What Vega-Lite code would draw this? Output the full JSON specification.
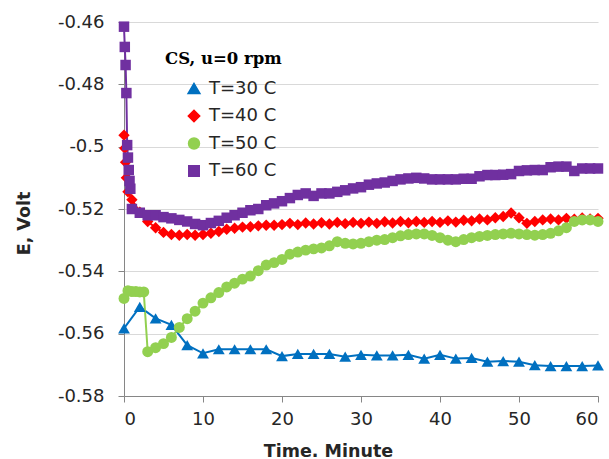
{
  "$schema": "https://vega.github.io/schema/vega-lite/v6.json",
  "width": 474,
  "height": 374,
  "autosize": {"type": "none"},
  "padding": {"left": 124, "top": 22, "right": 11, "bottom": 63},
  "background": "white",
  "config": {"view": {"stroke": null}, "font": "DejaVu Sans"},
  "data": {"values": [
    {"s":"T=30 C","t":0,"e":-0.5583},{"s":"T=30 C","t":2,"e":-0.5514},{"s":"T=30 C","t":4,"e":-0.5551},{"s":"T=30 C","t":6,"e":-0.5572},{"s":"T=30 C","t":8,"e":-0.5637},{"s":"T=30 C","t":10,"e":-0.5663},{"s":"T=30 C","t":12,"e":-0.565},{"s":"T=30 C","t":14,"e":-0.565},{"s":"T=30 C","t":16,"e":-0.565},{"s":"T=30 C","t":18,"e":-0.565},{"s":"T=30 C","t":20,"e":-0.5672},{"s":"T=30 C","t":22,"e":-0.5665},{"s":"T=30 C","t":24,"e":-0.5665},{"s":"T=30 C","t":26,"e":-0.5665},{"s":"T=30 C","t":28,"e":-0.5674},{"s":"T=30 C","t":30,"e":-0.5668},{"s":"T=30 C","t":32,"e":-0.567},{"s":"T=30 C","t":34,"e":-0.567},{"s":"T=30 C","t":36,"e":-0.5668},{"s":"T=30 C","t":38,"e":-0.568},{"s":"T=30 C","t":40,"e":-0.5668},{"s":"T=30 C","t":42,"e":-0.568},{"s":"T=30 C","t":44,"e":-0.5678},{"s":"T=30 C","t":46,"e":-0.569},{"s":"T=30 C","t":48,"e":-0.5688},{"s":"T=30 C","t":50,"e":-0.569},{"s":"T=30 C","t":52,"e":-0.5701},{"s":"T=30 C","t":54,"e":-0.5704},{"s":"T=30 C","t":56,"e":-0.5704},{"s":"T=30 C","t":58,"e":-0.5704},{"s":"T=30 C","t":60,"e":-0.5702},
    {"s":"T=40 C","t":0,"e":-0.4963},{"s":"T=40 C","t":0.1,"e":-0.5005},{"s":"T=40 C","t":0.2,"e":-0.505},{"s":"T=40 C","t":0.3,"e":-0.51},{"s":"T=40 C","t":0.5,"e":-0.5145},{"s":"T=40 C","t":1,"e":-0.517},{"s":"T=40 C","t":2,"e":-0.521},{"s":"T=40 C","t":3,"e":-0.524},{"s":"T=40 C","t":4,"e":-0.526},{"s":"T=40 C","t":5,"e":-0.5275},{"s":"T=40 C","t":6,"e":-0.5282},{"s":"T=40 C","t":7,"e":-0.5284},{"s":"T=40 C","t":8,"e":-0.5282},{"s":"T=40 C","t":9,"e":-0.5284},{"s":"T=40 C","t":10,"e":-0.5282},{"s":"T=40 C","t":11,"e":-0.5278},{"s":"T=40 C","t":12,"e":-0.5272},{"s":"T=40 C","t":13,"e":-0.5265},{"s":"T=40 C","t":14,"e":-0.5262},{"s":"T=40 C","t":15,"e":-0.5258},{"s":"T=40 C","t":16,"e":-0.5257},{"s":"T=40 C","t":17,"e":-0.5254},{"s":"T=40 C","t":18,"e":-0.5252},{"s":"T=40 C","t":19,"e":-0.5252},{"s":"T=40 C","t":20,"e":-0.525},{"s":"T=40 C","t":21,"e":-0.5246},{"s":"T=40 C","t":22,"e":-0.525},{"s":"T=40 C","t":23,"e":-0.5245},{"s":"T=40 C","t":24,"e":-0.5248},{"s":"T=40 C","t":25,"e":-0.5244},{"s":"T=40 C","t":26,"e":-0.5248},{"s":"T=40 C","t":27,"e":-0.5243},{"s":"T=40 C","t":28,"e":-0.5247},{"s":"T=40 C","t":29,"e":-0.5243},{"s":"T=40 C","t":30,"e":-0.5246},{"s":"T=40 C","t":31,"e":-0.5242},{"s":"T=40 C","t":32,"e":-0.5246},{"s":"T=40 C","t":33,"e":-0.5241},{"s":"T=40 C","t":34,"e":-0.5245},{"s":"T=40 C","t":35,"e":-0.524},{"s":"T=40 C","t":36,"e":-0.5244},{"s":"T=40 C","t":37,"e":-0.524},{"s":"T=40 C","t":38,"e":-0.5243},{"s":"T=40 C","t":39,"e":-0.524},{"s":"T=40 C","t":40,"e":-0.5243},{"s":"T=40 C","t":41,"e":-0.5238},{"s":"T=40 C","t":42,"e":-0.5242},{"s":"T=40 C","t":43,"e":-0.5236},{"s":"T=40 C","t":44,"e":-0.5238},{"s":"T=40 C","t":45,"e":-0.5232},{"s":"T=40 C","t":46,"e":-0.5235},{"s":"T=40 C","t":47,"e":-0.5228},{"s":"T=40 C","t":48,"e":-0.5224},{"s":"T=40 C","t":49,"e":-0.5213},{"s":"T=40 C","t":50,"e":-0.5228},{"s":"T=40 C","t":51,"e":-0.5246},{"s":"T=40 C","t":52,"e":-0.524},{"s":"T=40 C","t":53,"e":-0.5235},{"s":"T=40 C","t":54,"e":-0.5232},{"s":"T=40 C","t":55,"e":-0.5235},{"s":"T=40 C","t":56,"e":-0.523},{"s":"T=40 C","t":57,"e":-0.5233},{"s":"T=40 C","t":58,"e":-0.5229},{"s":"T=40 C","t":59,"e":-0.5232},{"s":"T=40 C","t":60,"e":-0.523},
    {"s":"T=50 C","t":0,"e":-0.5487},{"s":"T=50 C","t":0.5,"e":-0.5462},{"s":"T=50 C","t":1,"e":-0.5465},{"s":"T=50 C","t":1.5,"e":-0.5465},{"s":"T=50 C","t":2,"e":-0.5466},{"s":"T=50 C","t":2.5,"e":-0.5466},{"s":"T=50 C","t":3,"e":-0.5658},{"s":"T=50 C","t":4,"e":-0.5645},{"s":"T=50 C","t":5,"e":-0.5632},{"s":"T=50 C","t":6,"e":-0.5612},{"s":"T=50 C","t":7,"e":-0.558},{"s":"T=50 C","t":8,"e":-0.5552},{"s":"T=50 C","t":9,"e":-0.5528},{"s":"T=50 C","t":10,"e":-0.5502},{"s":"T=50 C","t":11,"e":-0.5485},{"s":"T=50 C","t":12,"e":-0.5468},{"s":"T=50 C","t":13,"e":-0.545},{"s":"T=50 C","t":14,"e":-0.5438},{"s":"T=50 C","t":15,"e":-0.5425},{"s":"T=50 C","t":16,"e":-0.5415},{"s":"T=50 C","t":17,"e":-0.5398},{"s":"T=50 C","t":18,"e":-0.538},{"s":"T=50 C","t":19,"e":-0.5372},{"s":"T=50 C","t":20,"e":-0.5362},{"s":"T=50 C","t":21,"e":-0.5345},{"s":"T=50 C","t":22,"e":-0.5338},{"s":"T=50 C","t":23,"e":-0.5332},{"s":"T=50 C","t":24,"e":-0.5328},{"s":"T=50 C","t":25,"e":-0.5325},{"s":"T=50 C","t":26,"e":-0.5318},{"s":"T=50 C","t":27,"e":-0.5305},{"s":"T=50 C","t":28,"e":-0.531},{"s":"T=50 C","t":29,"e":-0.5312},{"s":"T=50 C","t":30,"e":-0.531},{"s":"T=50 C","t":31,"e":-0.5305},{"s":"T=50 C","t":32,"e":-0.53},{"s":"T=50 C","t":33,"e":-0.5298},{"s":"T=50 C","t":34,"e":-0.5292},{"s":"T=50 C","t":35,"e":-0.5286},{"s":"T=50 C","t":36,"e":-0.5282},{"s":"T=50 C","t":37,"e":-0.528},{"s":"T=50 C","t":38,"e":-0.528},{"s":"T=50 C","t":39,"e":-0.5285},{"s":"T=50 C","t":40,"e":-0.5292},{"s":"T=50 C","t":41,"e":-0.53},{"s":"T=50 C","t":42,"e":-0.5305},{"s":"T=50 C","t":43,"e":-0.5298},{"s":"T=50 C","t":44,"e":-0.5292},{"s":"T=50 C","t":45,"e":-0.5288},{"s":"T=50 C","t":46,"e":-0.5285},{"s":"T=50 C","t":47,"e":-0.5282},{"s":"T=50 C","t":48,"e":-0.528},{"s":"T=50 C","t":49,"e":-0.5278},{"s":"T=50 C","t":50,"e":-0.528},{"s":"T=50 C","t":51,"e":-0.5282},{"s":"T=50 C","t":52,"e":-0.5284},{"s":"T=50 C","t":53,"e":-0.5282},{"s":"T=50 C","t":54,"e":-0.5278},{"s":"T=50 C","t":55,"e":-0.527},{"s":"T=50 C","t":56,"e":-0.526},{"s":"T=50 C","t":57,"e":-0.524},{"s":"T=50 C","t":58,"e":-0.5235},{"s":"T=50 C","t":59,"e":-0.5235},{"s":"T=50 C","t":60,"e":-0.524},
    {"s":"T=60 C","t":0,"e":-0.4615},{"s":"T=60 C","t":0.1,"e":-0.468},{"s":"T=60 C","t":0.2,"e":-0.4738},{"s":"T=60 C","t":0.3,"e":-0.4828},{"s":"T=60 C","t":0.4,"e":-0.4995},{"s":"T=60 C","t":0.5,"e":-0.5035},{"s":"T=60 C","t":0.6,"e":-0.5075},{"s":"T=60 C","t":0.7,"e":-0.511},{"s":"T=60 C","t":0.8,"e":-0.5135},{"s":"T=60 C","t":1,"e":-0.52},{"s":"T=60 C","t":2,"e":-0.5212},{"s":"T=60 C","t":3,"e":-0.522},{"s":"T=60 C","t":4,"e":-0.522},{"s":"T=60 C","t":5,"e":-0.5226},{"s":"T=60 C","t":6,"e":-0.523},{"s":"T=60 C","t":7,"e":-0.5235},{"s":"T=60 C","t":8,"e":-0.524},{"s":"T=60 C","t":9,"e":-0.5248},{"s":"T=60 C","t":10,"e":-0.5252},{"s":"T=60 C","t":11,"e":-0.5245},{"s":"T=60 C","t":12,"e":-0.5238},{"s":"T=60 C","t":13,"e":-0.5228},{"s":"T=60 C","t":14,"e":-0.522},{"s":"T=60 C","t":15,"e":-0.5212},{"s":"T=60 C","t":16,"e":-0.5204},{"s":"T=60 C","t":17,"e":-0.52},{"s":"T=60 C","t":18,"e":-0.5188},{"s":"T=60 C","t":19,"e":-0.5182},{"s":"T=60 C","t":20,"e":-0.5175},{"s":"T=60 C","t":21,"e":-0.5165},{"s":"T=60 C","t":22,"e":-0.5155},{"s":"T=60 C","t":23,"e":-0.515},{"s":"T=60 C","t":24,"e":-0.5158},{"s":"T=60 C","t":25,"e":-0.515},{"s":"T=60 C","t":26,"e":-0.515},{"s":"T=60 C","t":27,"e":-0.5145},{"s":"T=60 C","t":28,"e":-0.514},{"s":"T=60 C","t":29,"e":-0.5134},{"s":"T=60 C","t":30,"e":-0.513},{"s":"T=60 C","t":31,"e":-0.5122},{"s":"T=60 C","t":32,"e":-0.5118},{"s":"T=60 C","t":33,"e":-0.5115},{"s":"T=60 C","t":34,"e":-0.511},{"s":"T=60 C","t":35,"e":-0.5105},{"s":"T=60 C","t":36,"e":-0.5102},{"s":"T=60 C","t":37,"e":-0.51},{"s":"T=60 C","t":38,"e":-0.5102},{"s":"T=60 C","t":39,"e":-0.5105},{"s":"T=60 C","t":40,"e":-0.5105},{"s":"T=60 C","t":41,"e":-0.5105},{"s":"T=60 C","t":42,"e":-0.5105},{"s":"T=60 C","t":43,"e":-0.5103},{"s":"T=60 C","t":44,"e":-0.5103},{"s":"T=60 C","t":45,"e":-0.5095},{"s":"T=60 C","t":46,"e":-0.5091},{"s":"T=60 C","t":47,"e":-0.5091},{"s":"T=60 C","t":48,"e":-0.509},{"s":"T=60 C","t":49,"e":-0.5088},{"s":"T=60 C","t":50,"e":-0.5078},{"s":"T=60 C","t":51,"e":-0.5076},{"s":"T=60 C","t":52,"e":-0.5075},{"s":"T=60 C","t":53,"e":-0.5075},{"s":"T=60 C","t":54,"e":-0.5066},{"s":"T=60 C","t":55,"e":-0.5064},{"s":"T=60 C","t":56,"e":-0.5064},{"s":"T=60 C","t":57,"e":-0.5078},{"s":"T=60 C","t":58,"e":-0.507},{"s":"T=60 C","t":59,"e":-0.507},{"s":"T=60 C","t":60,"e":-0.507}
  ]},
  "encoding": {
    "x": {
      "field": "t", "type": "quantitative",
      "scale": {"domain": [0, 60], "nice": false},
      "axis": {
        "values": [0, 10, 20, 30, 40, 50, 60],
        "grid": false,
        "title": "Time. Minute",
        "titleFont": "DejaVu Sans", "titleFontSize": 17.5, "titleFontWeight": "bold", "titleColor": "#262626",
        "titleX": 204, "titleY": 60, "titleAlign": "center", "titleBaseline": "alphabetic",
        "labelFont": "DejaVu Sans", "labelFontSize": 18, "labelColor": "#262626", "labelPadding": 8,
        "domainColor": "#868686", "domainWidth": 1, "tickColor": "#868686", "tickSize": 6, "tickWidth": 1
      }
    },
    "y": {
      "field": "e", "type": "quantitative",
      "scale": {"domain": [-0.58, -0.46], "nice": false, "zero": false},
      "axis": {
        "values": [-0.58, -0.56, -0.54, -0.52, -0.5, -0.48, -0.46],
        "labelExpr": "replace(format(datum.value, '.2~f'), '\u2212', '-')",
        "grid": true, "gridColor": "#d9d9d9", "gridWidth": 1,
        "title": "E, Volt",
        "titleFont": "DejaVu Sans", "titleFontSize": 17.5, "titleFontWeight": "bold", "titleColor": "#262626",
        "titleX": -100, "titleY": 201, "titleAngle": -90, "titleAlign": "center", "titleBaseline": "middle",
        "labelFont": "DejaVu Sans", "labelFontSize": 18, "labelColor": "#262626", "labelPadding": 14,
        "domainColor": "#868686", "domainWidth": 1, "tickColor": "#868686", "tickSize": 6, "tickWidth": 1
      }
    },
    "color": {
      "field": "s", "type": "nominal",
      "scale": {"domain": ["T=30 C", "T=40 C", "T=50 C", "T=60 C"], "range": ["#0070C0", "#FF0000", "#92D050", "#7030A0"]},
      "legend": {
        "orient": "none", "legendX": 41, "legendY": 29, "padding": 0,
        "title": "CS, u=0 rpm",
        "titleFont": "DejaVu Serif", "titleFontSize": 16.5, "titleFontWeight": "bold", "titleColor": "#000000", "titlePadding": 12,
        "labelFont": "DejaVu Sans", "labelFontSize": 18, "labelColor": "#262626", "labelOffset": 6,
        "symbolSize": 110, "symbolOffset": 20, "rowPadding": 9.5, "symbolOpacity": 1
      }
    }
  },
  "layer": [
    {"mark": {"type": "line", "strokeWidth": 2}},
    {
      "mark": {"type": "point", "filled": true, "opacity": 1, "strokeWidth": 0},
      "encoding": {
        "shape": {"field": "s", "type": "nominal", "scale": {"domain": ["T=30 C", "T=40 C", "T=50 C", "T=60 C"], "range": ["triangle-up", "diamond", "circle", "square"]}, "legend": null},
        "size": {"field": "s", "type": "ordinal", "scale": {"domain": ["T=30 C", "T=40 C", "T=50 C", "T=60 C"], "range": [140, 110, 150, 150]}, "legend": null}
      }
    }
  ]
}
